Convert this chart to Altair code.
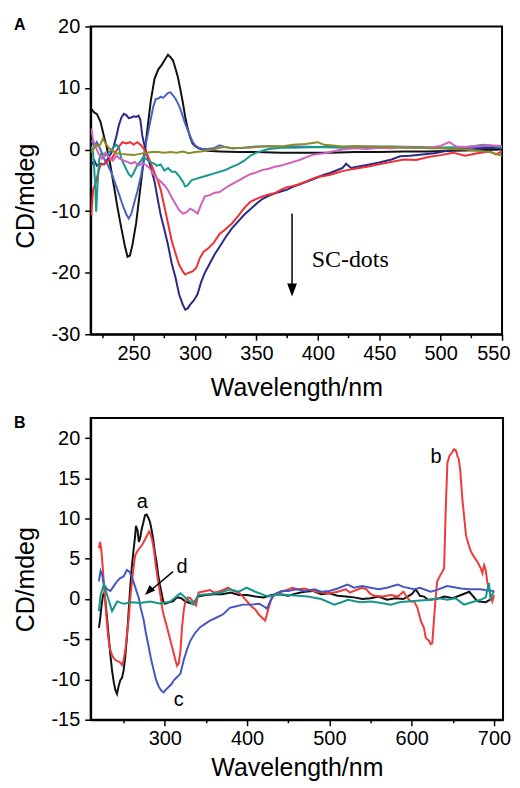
import altair as alt
import pandas as pd

# ---------------- Panel A data (wavelength nm, CD mdeg) ----------------
A_BLACK_WL = [215.5, 218, 220, 223, 226, 228, 231, 234, 237, 240, 243, 245, 247, 249, 252, 255, 258, 261, 264, 267,
              270, 273, 276, 278, 280, 282, 284, 286, 288, 290, 292, 294, 296, 298, 300, 303, 306, 310, 320, 335,
              350, 370, 390, 410, 430, 450, 470, 490, 510, 530, 550]
A_BLACK_CD = [6.6, 6.0, 5.8, 4.5, 2.0, 0.5, -2.5, -6, -9.6, -12.8, -15.8, -17.4, -17.2, -15.5, -12, -7, -2, 3, 8, 11.5,
              13, 13.8, 14.8, 15.4, 15.0, 14.5, 13.2, 11.8, 9.8, 7.7, 5.3, 3.4, 2.0, 1.0, 0.6, 0.2, 0, -0.2, -0.3, -0.4,
              -0.4, -0.5, -0.5, -0.5, -0.4, -0.4, -0.3, -0.3, -0.2, -0.1, 0]

A_BLUE_WL = [215.5, 218, 220, 223, 226, 229, 232, 235, 238, 241, 244, 246, 248, 250, 253, 256, 258, 260, 262, 264,
             266, 268, 270, 272, 274, 276, 278, 280, 282, 284, 286, 288, 290, 292, 294, 296, 298, 300, 303, 306,
             310, 315, 320, 325, 330, 340, 350, 360, 380, 400, 420, 440, 460, 480, 500, 520, 535, 550]
A_BLUE_CD = [1.5, 0.5, 1.2, 0, -1.5, -2.5, -3.8, -5.5, -7.2, -9, -10.5, -11.2, -10.5, -9, -6.8, -4.2, -2, 1, 3, 5,
             7, 8.2, 8.3, 8.6, 8.4, 8.8, 9.2, 9.3, 8.8, 8.3, 7.5, 6.6, 5.4, 4.2, 3.2, 2.2, 1.3, 0.7, 0.3, 0.1,
             0.1, 0.2, 0.7, 0.4, 0.2, 0.3, 0.5, 0.5, 0.5, 0.4, 0.4, 0.5, 0.5, 0.4, 0.3, 0.3, 0.4, 0.4]

A_NAVY_WL = [215.5, 218, 220, 223, 226, 229, 232, 234, 236, 238, 240, 242, 244, 246, 248, 250, 252, 254, 255.5, 257,
             259, 261, 264, 267, 270, 272, 275, 278, 281, 284, 287, 290, 292, 294, 296, 299, 302, 305, 308, 312,
             316, 320, 325, 330, 335, 340, 345, 350, 355, 360, 365, 370, 375, 380, 385, 390, 395, 400, 405, 410,
             415, 420, 423, 427, 432, 440, 450, 460, 467, 475, 485, 495, 505, 515, 525, 535, 545, 550]
A_NAVY_CD = [-2.5, -1.8, -2.6, -2.3, -2.4, -1.5, -0.5, 0.7, 2.2, 4, 5.2, 5.8, 5.6, 5.1, 5.2, 5.4, 5.3, 5.5, 4.8, 2.3,
             0.5, -0.9, -3, -5.2, -8.5, -10.6, -13, -15.5, -18.5, -20.7, -23.5, -25.2, -26, -25.8, -25.2, -24.5, -23.5, -21.5, -20, -18.5,
             -17, -15.8, -14.2, -12.8, -11.7, -10.6, -9.7, -8.8, -8, -7.5, -7.1, -6.8, -6.5, -6.0, -5.7, -5.3, -4.9, -4.5, -4.1, -3.8,
             -3.4, -3.0, -2.3, -3.0, -2.8, -2.5, -2.1, -1.6, -1.1, -1.0, -0.8, -0.6, -0.2, 0.1, 0.0, 0.2, 0.3, 0.2]

A_RED_WL = [215.5, 217, 219, 221, 223, 226, 229, 232, 235, 238, 241, 244, 247, 250, 253, 256, 258, 261, 264, 267,
            270, 272, 275, 278, 281, 284, 287, 290, 292, 295, 298, 301, 304, 307, 311, 315, 320, 325, 330, 335,
            340, 345, 350, 355, 360, 365, 370, 375, 380, 385, 390, 395, 400, 405, 410, 415, 420, 425, 430, 440,
            450, 460, 470, 480, 490, 500, 510, 520, 530, 540, 545, 550]
A_RED_CD = [-10.7, -6.5, -5.5, -3.8, -2.5, -2.3, -1.8, -1.5, -0.5, 0.5, 1.2, 1.0, 1.2, 0.8, 1.2, 0.7, 0.2, -0.8, -2.2, -3.8,
            -5.2, -6.5, -9.2, -12, -14.8, -16.8, -18.7, -19.8, -20.3, -20.0, -19.8, -19.2, -17.6, -16.6, -16.0, -15.2, -13.7, -12.9, -12.0, -10.8,
            -9.5, -8.5, -8.0, -7.6, -7.3, -7.1, -6.5, -6.1, -5.9, -5.6, -5.2, -4.8, -4.4, -4.3, -4.1, -3.8, -3.5, -3.3, -3.1, -2.8,
            -2.4, -2.0, -1.6, -1.7, -1.2, -0.9, -0.5, -1.0, -0.6, -0.3, -0.8, -0.3]

A_TEAL_WL = [215.5, 217, 218.5, 219.5, 220.5, 222, 224, 227, 230, 233, 236, 238, 240, 243, 246, 248, 250, 253, 256, 258,
             260, 263, 266, 269, 272, 275, 278, 281, 284, 287, 290, 292, 294, 297, 300, 305, 310, 315, 320, 325,
             330, 335, 340, 345, 350, 355, 360, 370, 380, 400, 420, 440, 460, 480, 500, 520, 535, 545, 550]
A_TEAL_CD = [0.5, -0.5, -5, -10.1, -6, -1.5, -0.5, -1.0, -0.5, 0.2, 0.8, 0.3, -1.5, -2.8, -4.0, -4.4, -3.8, -2.5, -1.8, -1.2,
             -1.5, -2.0, -2.2, -2.6, -2.4, -3.4, -3.0, -3.6, -3.6, -4.3, -5.2, -6.0, -5.8, -5.0, -4.8, -4.5, -4.2, -3.9, -3.6, -3.3,
             -2.8, -2.4, -1.8, -1.0, -0.5, -0.2, 0.1, 0.3, 0.3, 0.4, 0.3, 0.4, 0.4, 0.3, 0.3, 0.4, 0.8, 0.5, 0.3]

A_MAGENTA_WL = [215.5, 217, 219, 221, 224, 227, 230, 233, 236, 239, 242, 245, 248, 251, 254, 257, 260, 263, 266, 269,
                272, 275, 278, 281, 284, 287, 290, 293, 296, 299, 302, 305, 308, 312, 316, 320, 325, 330, 335, 340,
                345, 350, 355, 360, 365, 370, 375, 380, 385, 390, 395, 400, 405, 410, 420, 430, 440, 450, 460, 470,
                480, 490, 500, 507, 513, 520, 530, 540, 550]
A_MAGENTA_CD = [3.4, 1.5, 0.5, -0.5, -1.5, -0.5, -1.2, -1.8, -1.0, -1.5, -1.8, -2.0, -2.3, -2.0, -2.6, -2.2, -2.5, -3.0, -4.0, -4.7,
                -5.2, -5.8, -6.6, -7.8, -8.8, -9.8, -10.4, -10.2, -9.6, -9.9, -10.4, -8.9, -7.6, -7.4, -7.0, -6.9, -6.2, -5.6, -5.1, -4.5,
                -4.0, -3.7, -3.3, -3.1, -2.8, -2.6, -2.3, -2.0, -1.7, -1.3, -0.9, -0.7, -0.6, -0.4, 0.0, 0.2, 0.1, 0.3, 0.2, 0.4,
                0.3, 0.3, 0.6, 1.2, 0.5, 0.4, 0.6, 0.7, 0.6]

A_OLIVE_WL = [215.5, 218, 220, 222, 225, 227, 230, 233, 236, 240, 245, 250, 255, 260, 265, 270, 275, 280, 285, 290,
              295, 300, 305, 310, 315, 320, 325, 330, 340, 350, 360, 370, 380, 390, 400, 405, 410, 420, 430, 440,
              450, 460, 470, 480, 490, 500, 510, 520, 530, 540, 550]
A_OLIVE_CD = [-0.5, 0.3, 0.7, 0.5, 1.8, 1.0, 0.2, -0.2, -0.6, -0.7, -0.8, -0.9, -0.7, -0.5, -0.4, -0.4, -0.5, -0.4, -0.5, -0.3,
              -0.6, -0.4, -0.3, -0.1, 0.0, 0.3, 0.4, 0.2, 0.3, 0.4, 0.6, 0.5, 0.8, 0.9, 1.2, 0.8, 0.7, 0.5, 0.6, 0.5,
              0.4, 0.4, 0.3, 0.3, 0.2, 0.2, 0.1, 0.0, -0.2, -0.4, -1.0]

A_NAMES = ["black", "blue", "navy", "red", "teal", "magenta", "olive"]
A_COLORS = ["#111111", "#4a62c6", "#2b2a86", "#f03030", "#169a8f", "#d35fbd", "#8b8b2c"]
A_SERIES = [(A_BLACK_WL, A_BLACK_CD), (A_BLUE_WL, A_BLUE_CD), (A_NAVY_WL, A_NAVY_CD), (A_RED_WL, A_RED_CD),
            (A_TEAL_WL, A_TEAL_CD), (A_MAGENTA_WL, A_MAGENTA_CD), (A_OLIVE_WL, A_OLIVE_CD)]

A_X_MAJOR = [250, 300, 350, 400, 450, 500, 550]
A_X_MINOR = [225, 275, 325, 375, 425, 475, 525]
A_Y_TICKS = [-30, -25, -20, -15, -10, -5, 0, 5, 10, 15, 20]

# ---------------- Panel B data ----------------
B_A_WL = [220, 221.5, 223, 225, 226.5, 228, 230, 232, 234, 236, 238, 240, 242, 244, 246, 248, 250, 252, 254, 256,
          258, 260, 262, 264, 265, 267, 268.5, 270, 272, 274, 276, 278, 280, 282, 284, 286, 288, 290, 292, 294,
          296, 298, 300, 305, 310, 315, 320, 325, 330, 335, 340, 350, 360, 370, 380, 390, 400, 410, 420, 430,
          440, 450, 460, 470, 480, 490, 500, 510, 520, 530, 540, 550, 560, 570, 580, 590, 600, 605, 610, 615,
          620, 630, 640, 650, 660, 670, 675, 680, 690, 700]
B_A_CD = [-3.6, -2.5, -1, 0.5, 0.8, -0.3, -2.5, -4.8, -7, -8.9, -10.3, -11.3, -11.8, -10.8, -10.1, -9.8, -8.9, -7.2, -4.8, -1.8,
          1.4, 4, 6.0, 7.8, 9.1, 8.5, 7.1, 7.5, 8.7, 9.5, 10.4, 10.5, 10.1, 9.6, 8.6, 7.4, 5.8, 4.6, 3.0, 1.8,
          0.8, -0.2, -0.6, -0.4, -0.3, 0.2, 0.1, -0.3, -0.5, -0.6, 0.3, 0.5, 0.6, 0.6, 0.8, 0.5, 0.5, 0.3, 0.2, 0.5,
          0.6, 0.4, 0.7, 0.9, 1.0, 0.6, 0.7, 0.4, 0.3, 0.2, 0.0, 0.1, 0.3, -0.1, 0.1, 0.0, 0.6, 1.2, 0.4, 0.3,
          -0.1, 0.0, 0.3, 0.1, 0.5, 0.9, 0.3, -0.3, -0.4, 0.2]

B_B_WL = [220, 221.5, 223, 225, 227, 229, 231, 233, 236, 239, 242, 245, 248, 250, 252, 254, 256.5, 258, 260, 262,
          264, 267, 270, 273, 276, 279, 281, 283, 285, 287, 289, 291, 293, 295, 297, 299, 302, 305, 308, 311,
          313, 315, 317, 319, 321, 323, 325, 328, 331, 335, 338, 341, 345, 350, 355, 360, 365, 370, 377, 383,
          390, 395, 400, 405, 410, 414, 418, 422, 426, 430, 435, 442, 450, 455, 462, 470, 480, 490, 500, 510,
          520, 525, 530, 540, 545, 550, 555, 565, 575, 583, 590, 595, 599, 603, 607, 611, 615, 617, 621, 623,
          625, 627, 629, 631, 635, 639.4, 641.4, 643.4, 646, 649, 651.5, 654, 656, 657, 659, 661.5, 664, 666, 669, 672,
          676, 680, 684, 686, 688, 690, 692, 694, 696, 698, 700]
B_B_CD = [6.3, 7.1, 6.0, 3.5, 0.5, -2, -4.5, -6, -7, -7.5, -7.7, -7.8, -8.2, -7.6, -6.4, -4.5, -2.2, 0, 2, 3.8,
          5.4, 6.0, 6.4, 6.8, 7.4, 8.0, 8.4, 8.0, 7.2, 6.0, 4.2, 2.8, 1.5, 0.3, -1.2, -2.1, -3.2, -4.4, -5.6, -6.8,
          -7.6, -8.3, -8.0, -6.5, -3.5, -1.5, -0.3, 0.2, 0.1, -0.4, -0.8, 0.8, 0.9, 1.0, 1.1, 0.8, 0.9, 1.1, 1.4, 1.0,
          0.8, 0.3, -0.3, -0.9, -1.3, -1.9, -2.3, -2.7, -1.2, 0.2, 0.6, 0.9, 1.2, 1.4, 1.2, 1.3, 1.0, 0.8, 0.7, 0.9,
          1.2, 0.8, 1.0, 1.4, 1.2, 0.6, 0.4, 0.3, 0.5, 0.3, 0.9, 0.1, -0.3, -0.3, -1.1, -2.7, -3.6, -4.8, -5.2, -5.6,
          -5.5, -2.7, 0.0, 2.2, 3.0, 3.8, 11.2, 16.9, 17.8, 18.2, 18.6, 18.4, 17.6, 17.5, 16.0, 12.5, 10.0, 7.9, 6.8, 5.9,
          5.2, 4.6, 3.8, 3.2, 4.2, 3.6, 2.0, 1.2, 0.3, -0.3, 0.5]

B_C_WL = [220, 222, 224, 226, 230, 234, 238, 242, 246, 250, 254, 257, 260.5, 264, 268.5, 271, 274.6, 277, 280.6, 283,
          286.7, 289, 292.7, 296, 298.8, 301, 304, 308, 311, 315, 319, 323, 327, 331, 337, 343, 349, 355, 363, 371,
          379, 387, 395, 405, 415, 420, 424, 428, 433, 442, 450, 460, 470, 482, 490, 500, 510, 522, 530, 540,
          550, 560, 570, 583, 590, 603, 610, 623, 630, 643, 650, 660, 670, 684, 690, 700]
B_C_CD = [2.2, 3.5, 3.0, 1.8, 1.2, 1.0, 1.6, 2.2, 2.6, 2.8, 3.6, 3.4, 2.6, 1.5, 0.1, -1.2, -2.7, -4.2, -6.0, -7.3,
          -8.9, -9.9, -10.9, -11.4, -11.6, -11.3, -11.0, -10.6, -10.1, -9.7, -9.3, -7.6, -6.3, -5.2, -4.2, -3.5, -3.1, -2.7, -2.3, -1.9,
          -1.1, -0.9, -0.7, -0.7, -0.6, -0.9, -1.2, -0.3, 0.6, 1.0, 1.0, 1.2, 1.0, 1.2, 0.9, 1.0, 1.3, 1.8, 1.4, 1.6,
          1.4, 1.2, 1.4, 1.8, 1.5, 1.2, 1.4, 0.9, 1.1, 1.6, 1.5, 1.3, 1.2, 1.2, 1.1, 1.0]

B_D_WL = [220, 222, 226, 230, 236, 242.3, 250, 260, 270, 282.7, 295, 306.9, 313, 319, 327, 335, 341, 352, 363, 371,
          379, 390, 399.5, 410, 425.8, 438, 450, 462, 474, 490, 506, 515, 522.6, 537, 550.7, 563, 574.9, 585, 595, 610,
          623, 633, 643.4, 653, 663.6, 673, 683.7, 690, 693.8, 695.8, 700]
B_D_CD = [-1.5, 0.5, 1.8, 0.5, -1.5, -0.3, -0.6, -0.4, -0.5, -0.3, -0.6, -0.3, 0.2, 0.7, 0.0, -0.7, 0.5, 0.6, 0.7, 0.9,
          1.2, 0.9, 1.4, 0.9, 0.3, 0.6, 0.5, 0.4, 0.3, 0.0, -0.7, -0.4, -0.1, -0.4, -0.3, -0.5, -0.7, -0.4, -0.3, -0.2,
          -0.1, 0.1, -0.1, 0.1, -0.7, -0.4, -0.1, 0.2, 2.0, 0.1, 1.0]

B_NAMES = ["a", "b", "c", "d"]
B_COLORS = ["#111111", "#f03a3a", "#4657bd", "#16968a"]
B_SERIES = [(B_A_WL, B_A_CD), (B_B_WL, B_B_CD), (B_C_WL, B_C_CD), (B_D_WL, B_D_CD)]

B_X_TICKS = [250, 300, 350, 400, 450, 500, 550, 600, 650, 700]
B_Y_TICKS = [-15, -12.5, -10, -7.5, -5, -2.5, 0, 2.5, 5, 7.5, 10, 12.5, 15, 17.5, 20, 22.5]

# curve labels in panel B
B_LABEL_TEXT = ["a", "b", "c", "d"]
B_LABEL_WL = [272.6, 629.5, 317.0, 321.0]
B_LABEL_CD = [12.0, 17.7, -12.6, 4.0]

A_W, A_H = 413, 309
B_W, B_H = 414, 303


def to_frame(names, series, key):
    rows = []
    for name, (wl, cd) in zip(names, series):
        assert len(wl) == len(cd), name
        for w, c in zip(wl, cd):
            rows.append({key: name, "wl": w, "cd": c})
    return pd.DataFrame(rows)


def axis(values, major, title, title_pad, label_pad, title_y=None):
    test = f"abs(datum.value / {major} - round(datum.value / {major})) < 0.001"
    kw = dict(
        values=values,
        labelExpr=f"{test} ? '' + round(datum.value) : ''",
        tickSize={"condition": {"test": test, "value": 6}, "value": 3},
        title=title, grid=False, labelFlush=False, labelOverlap=False,
        titlePadding=title_pad, labelPadding=label_pad,
    )
    if title_y is not None:
        kw["titleY"] = title_y
    return alt.Axis(**kw)


ARROW_HEAD = "M-0.75,-1L0.75,-1L0,1Z"

# ---------------- Panel A ----------------
df_a = to_frame(A_NAMES, A_SERIES, "sa")
xa = alt.Scale(domain=[215, 550], nice=False, zero=False)
ya = alt.Scale(domain=[-30, 20], nice=False, zero=False)

lines_a = alt.Chart(df_a).mark_line(strokeWidth=2, clip=True).encode(
    x=alt.X("wl:Q", scale=xa, axis=alt.Axis(values=A_X_MAJOR, tickSize=6, title="Wavelength/nm", grid=False,
                                             labelFlush=True, labelFlushOffset=8, labelOverlap=False,
                                             labelPadding=3, titlePadding=13)),
    y=alt.Y("cd:Q", scale=ya, axis=axis(A_Y_TICKS, 10, "CD/mdeg", title_pad=12, label_pad=5, title_y=170)),
    color=alt.Color("sa:N", scale=alt.Scale(domain=A_NAMES, range=A_COLORS), legend=None),
    detail="sa:N",
)
minor_a = alt.Chart(pd.DataFrame({"wl": A_X_MINOR})).mark_rule(color="black", strokeWidth=1.5, clip=False).encode(
    x="wl:Q", y=alt.value(A_H), y2=alt.value(A_H + 4))
arrow_a_df = pd.DataFrame({"wl": [379.0], "cd": [-10.4], "cd2": [-22.0], "tip": [-22.8]})
arrow_a = alt.Chart(arrow_a_df).mark_rule(color="black", strokeWidth=1.5).encode(
    x="wl:Q", y="cd:Q", y2="cd2:Q")
head_a = alt.Chart(arrow_a_df).mark_point(shape=ARROW_HEAD, filled=True, size=169, color="black", opacity=1).encode(
    x="wl:Q", y="tip:Q")
sc_df = pd.DataFrame({"wl": [395.0], "cd": [-17.9], "t": ["SC-dots"]})
sc_text = alt.Chart(sc_df).mark_text(align="left", baseline="middle", font="Liberation Serif", fontSize=24,
                                     color="black").encode(x="wl:Q", y="cd:Q", text="t:N")
tag_a = alt.Chart(pd.DataFrame({"t": ["A"]})).mark_text(
    align="left", baseline="middle", font="Liberation Sans", fontSize=16, fontWeight="bold", color="black"
).encode(x=alt.value(-77), y=alt.value(-1), text="t:N")

panel_a = alt.layer(lines_a, minor_a, arrow_a, head_a, sc_text, tag_a).properties(width=A_W, height=A_H)

# ---------------- Panel B ----------------
df_b = to_frame(B_NAMES, B_SERIES, "sb")
xb = alt.Scale(domain=[210, 711], nice=False, zero=False)
yb = alt.Scale(domain=[-15, 22.5], nice=False, zero=False)

lines_b = alt.Chart(df_b).mark_line(strokeWidth=2, clip=True).encode(
    x=alt.X("wl:Q", scale=xb, axis=axis(B_X_TICKS, 100, "Wavelength/nm", title_pad=7, label_pad=3)),
    y=alt.Y("cd:Q", scale=yb, axis=axis(B_Y_TICKS, 5, "CD/mdeg", title_pad=12, label_pad=5, title_y=162)),
    color=alt.Color("sb:N", scale=alt.Scale(domain=B_NAMES, range=B_COLORS), legend=None),
    detail="sb:N",
)
lab_df = pd.DataFrame({"wl": B_LABEL_WL, "cd": B_LABEL_CD, "t": B_LABEL_TEXT})
labels_b = alt.Chart(lab_df).mark_text(align="center", baseline="middle", font="Liberation Sans", fontSize=20,
                                       color="black").encode(x="wl:Q", y="cd:Q", text="t:N")
arrow_b_df = pd.DataFrame({"wl": [310.0], "cd": [3.4], "wl2": [281.0], "cd2": [0.9], "hx": [280.5], "hy": [0.95]})
arrow_b = alt.Chart(arrow_b_df).mark_rule(color="black", strokeWidth=1.5).encode(
    x="wl:Q", y="cd:Q", x2="wl2:Q", y2="cd2:Q")
head_b = alt.Chart(arrow_b_df).mark_point(shape=ARROW_HEAD, filled=True, size=110, angle=45, color="black",
                                          opacity=1).encode(x="hx:Q", y="hy:Q")
tag_b = alt.Chart(pd.DataFrame({"t": ["B"]})).mark_text(
    align="left", baseline="middle", font="Liberation Sans", fontSize=16, fontWeight="bold", color="black"
).encode(x=alt.value(-77), y=alt.value(5), text="t:N")

panel_b = alt.layer(lines_b, labels_b, arrow_b, head_b, tag_b).properties(width=B_W, height=B_H)

chart = alt.vconcat(panel_a, panel_b, spacing=12).resolve_scale(color="independent").properties(
    padding={"top": 6, "left": 5, "right": 0, "bottom": 0}
).configure_view(
    stroke="black", strokeWidth=2
).configure_axis(
    domainColor="black", domainWidth=2, tickColor="black", tickWidth=1.5,
    labelColor="black", titleColor="black", labelFont="Liberation Sans", labelFontSize=20,
    titleFont="Liberation Sans", titleFontSize=25, titleFontWeight="normal",
)

chart.save("out.html", embed_options={"renderer": "svg", "actions": False})
